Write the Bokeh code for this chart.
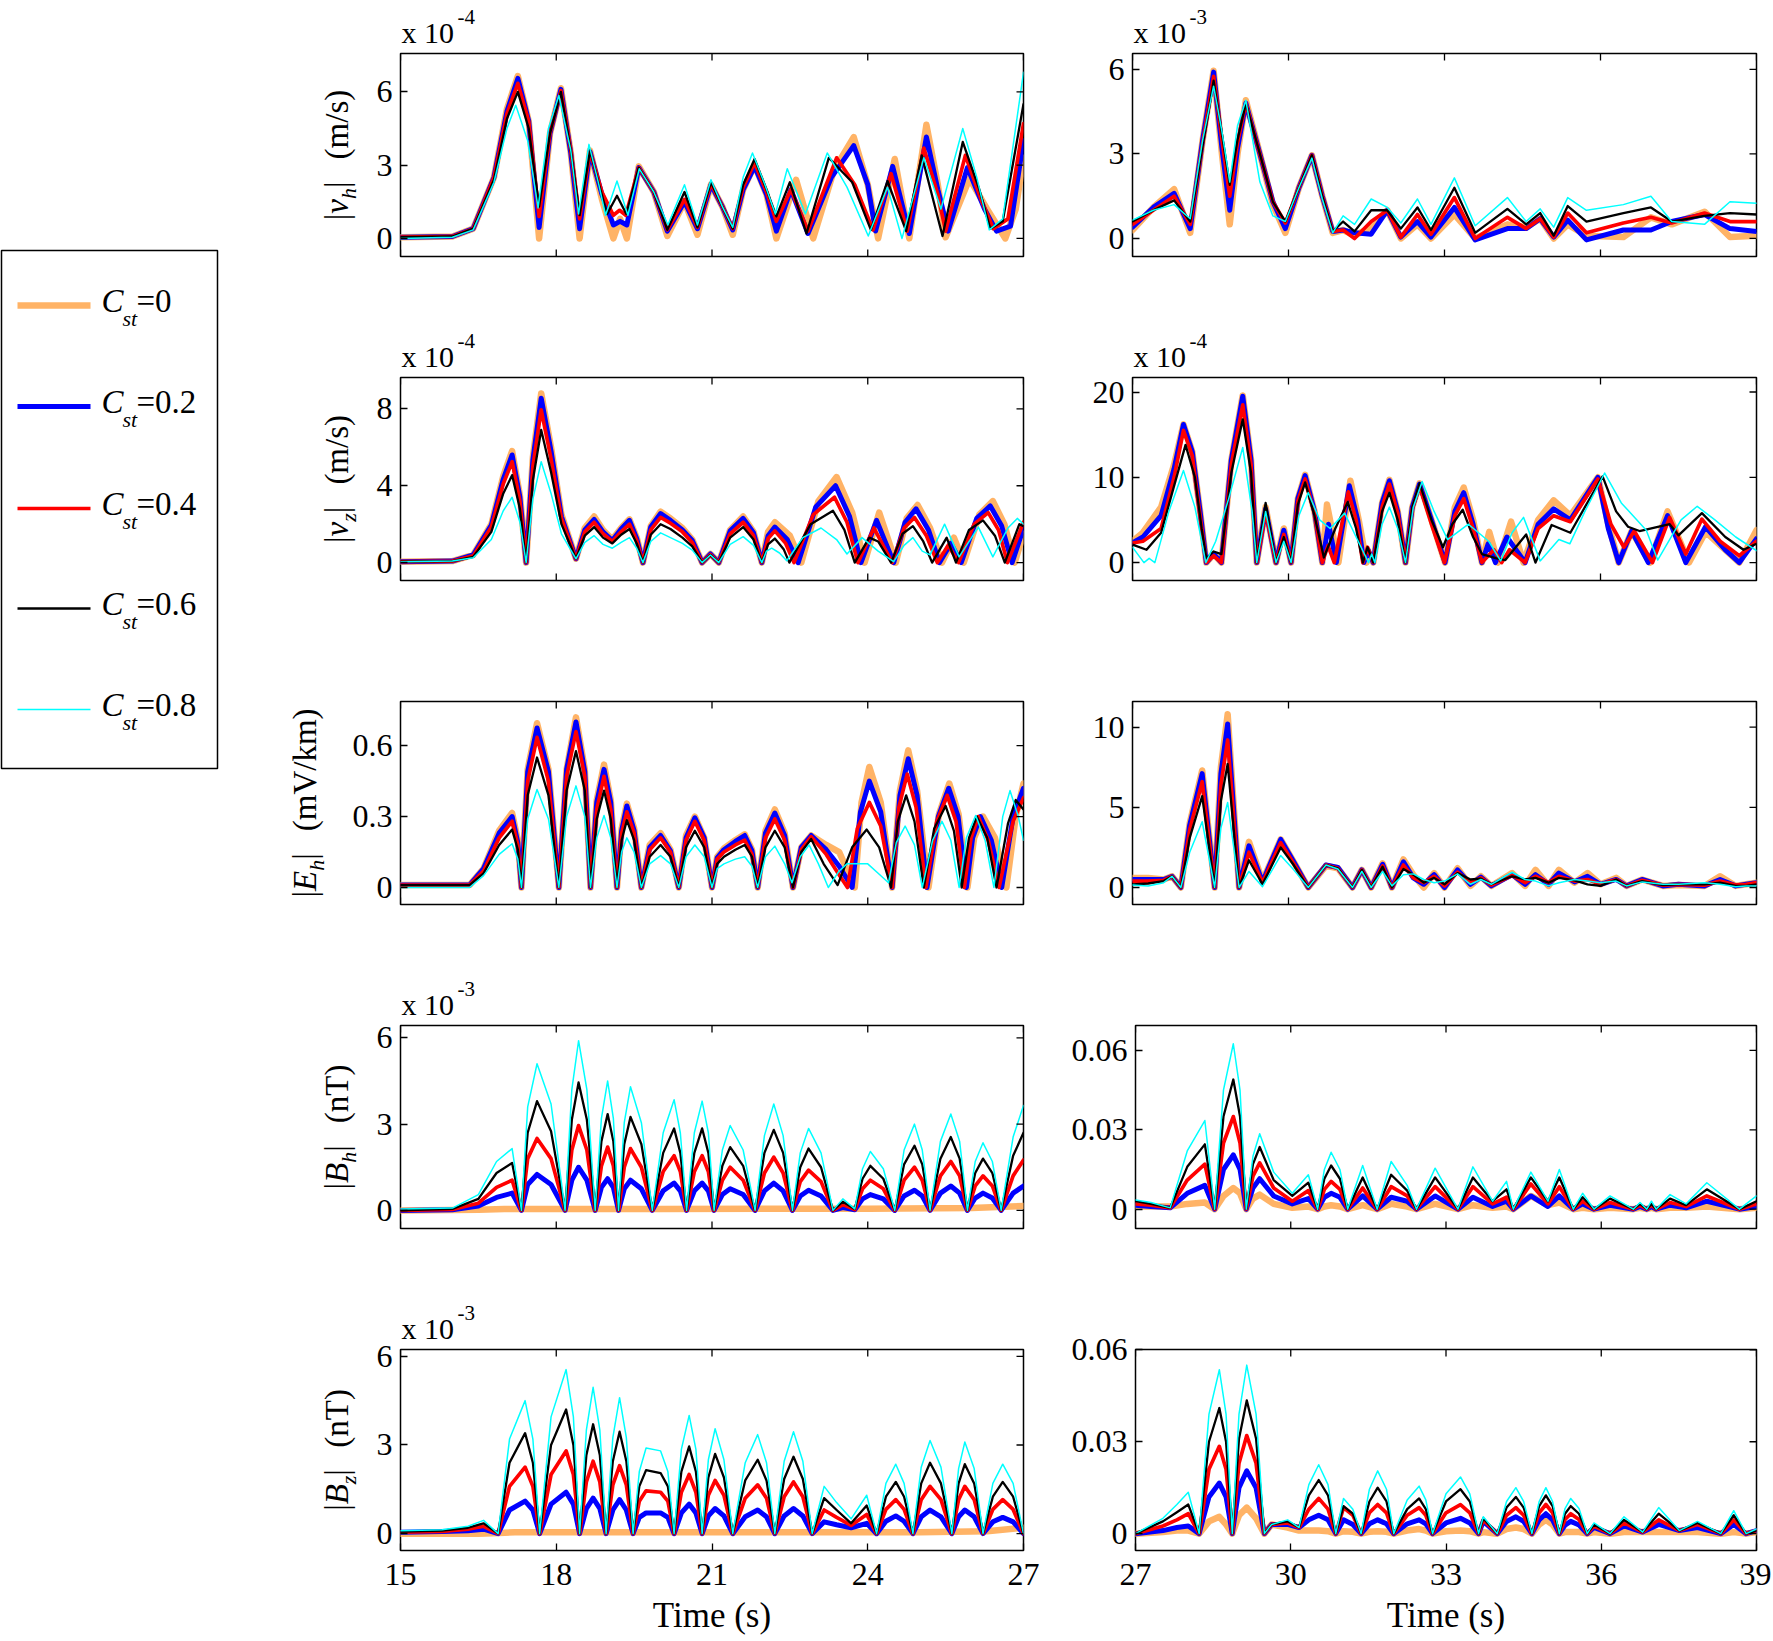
import math
from bokeh.plotting import figure
from bokeh.models import Range1d, FixedTicker, Label, CustomJSTickFormatter
from bokeh.layouts import row, column
from bokeh.embed import file_html
from bokeh.resources import INLINE

FONT = "Liberation Serif"
COLORS = ["#FFB366", "#0000FF", "#FF0000", "#000000", "#00FFFF"]
WIDTHS = [6.5, 5.0, 3.7, 2.3, 1.5]
CST = ["0", "0.2", "0.4", "0.6", "0.8"]

X_TICKS_LEFT = [15, 18, 21, 24, 27]
X_TICKS_RIGHT = [27, 30, 33, 36, 39]

# ---------------- |v_h| left (x 1e-4) ----------------
vh_l_c0 = [(15,0.05),(16.0,0.08),(16.4,0.4),(16.8,2.5),(17.05,5.3),(17.26,6.65),(17.47,4.8),(17.67,0.0),(17.88,4.3),(18.09,6.15),(18.28,3.5),(18.45,0.0),(18.65,3.6),(18.88,1.6),(19.1,0.0),(19.23,0.8),(19.36,0.0),(19.59,2.95),(19.88,1.9),(20.14,0.1),(20.47,1.5),(20.72,0.15),(20.98,2.2),(21.2,1.3),(21.4,0.15),(21.6,2.0),(21.82,3.0),(22.05,1.8),(22.24,0.0),(22.62,2.4),(22.95,0.0),(23.35,2.8),(23.73,4.15),(24.0,2.2),(24.2,0.0),(24.52,3.25),(24.8,0.0),(25.13,4.65),(25.35,2.2),(25.5,0.05),(25.96,2.45),(26.3,1.2),(26.65,0.0),(26.85,1.2),(27,3.3)]
vh_l_c1 = [(15,0.05),(16.0,0.08),(16.4,0.4),(16.8,2.5),(17.05,5.2),(17.26,6.55),(17.47,4.8),(17.67,0.45),(17.88,4.3),(18.09,6.1),(18.28,3.5),(18.45,0.4),(18.65,3.55),(18.88,1.8),(19.1,0.55),(19.23,0.7),(19.36,0.55),(19.59,2.9),(19.88,1.9),(20.14,0.3),(20.47,1.5),(20.72,0.4),(20.98,2.2),(21.2,1.3),(21.4,0.35),(21.6,2.0),(21.82,2.95),(22.05,1.8),(22.24,0.3),(22.52,2.0),(22.85,0.2),(23.3,2.5),(23.73,3.8),(24.0,2.2),(24.15,0.3),(24.48,2.95),(24.8,0.2),(25.13,4.15),(25.35,2.0),(25.55,0.3),(25.92,2.9),(26.25,1.2),(26.48,0.3),(26.75,0.5),(27,4.0)]
vh_l_c2 = [(15,0.05),(16.0,0.08),(16.4,0.4),(16.8,2.5),(17.05,5.1),(17.26,6.35),(17.47,4.8),(17.67,0.9),(17.88,4.3),(18.09,6.05),(18.28,3.6),(18.45,0.8),(18.65,3.55),(18.88,1.9),(19.1,0.95),(19.22,1.15),(19.34,0.95),(19.59,2.9),(19.88,1.9),(20.14,0.35),(20.47,1.6),(20.72,0.45),(20.98,2.25),(21.2,1.3),(21.4,0.4),(21.6,2.1),(21.82,3.1),(22.05,1.9),(22.24,0.7),(22.52,2.0),(22.85,0.3),(23.4,3.3),(23.75,2.2),(24.1,0.35),(24.45,2.65),(24.76,0.3),(25.08,3.7),(25.35,1.8),(25.5,0.3),(25.88,3.4),(26.2,1.5),(26.42,0.4),(26.7,0.8),(27,4.7)]
vh_l_c3 = [(15,0.05),(16.0,0.08),(16.4,0.4),(16.8,2.4),(17.05,4.9),(17.26,6.0),(17.47,4.5),(17.67,1.3),(17.88,4.3),(18.09,6.0),(18.28,3.6),(18.45,0.95),(18.65,3.6),(18.85,2.0),(18.98,1.0),(19.17,1.75),(19.35,1.0),(19.59,2.9),(19.88,1.9),(20.14,0.35),(20.47,1.9),(20.72,0.45),(20.98,2.3),(21.2,1.3),(21.4,0.4),(21.6,2.2),(21.82,3.25),(22.05,2.0),(22.24,0.9),(22.5,2.3),(22.82,0.2),(23.25,3.3),(23.7,2.3),(24.06,0.35),(24.38,2.35),(24.74,0.3),(25.04,3.4),(25.44,0.1),(25.83,3.95),(26.15,2.0),(26.36,0.4),(26.6,0.7),(27,5.5)]
vh_l_c4 = [(15,0.0),(16.0,0.05),(16.4,0.35),(16.8,2.3),(17.05,4.5),(17.22,5.45),(17.45,4.0),(17.65,1.25),(17.85,4.5),(18.05,5.85),(18.28,3.6),(18.43,1.0),(18.63,3.85),(18.82,2.2),(18.95,0.95),(19.17,2.35),(19.38,0.95),(19.6,2.85),(19.88,1.9),(20.15,0.55),(20.47,2.2),(20.72,0.55),(20.98,2.4),(21.2,1.3),(21.4,0.45),(21.6,2.5),(21.78,3.5),(22.02,2.2),(22.22,1.0),(22.45,2.85),(22.8,1.0),(23.22,3.5),(23.6,2.1),(24.01,0.1),(24.38,2.1),(24.66,0.0),(25.08,3.3),(25.41,1.2),(25.83,4.5),(26.1,2.5),(26.34,0.35),(26.6,0.8),(27,6.8)]

# ---------------- |v_h| right (x 1e-3) ----------------
vh_r_t = [27.0,27.4,27.8,28.11,28.35,28.56,28.72,28.87,29.02,29.18,29.45,29.7,29.94,30.2,30.45,30.65,30.85,31.05,31.27,31.59,31.9,32.16,32.48,32.74,33.19,33.59,34.21,34.57,34.84,35.1,35.37,35.73,36.44,36.97,37.37,38.0,38.49,39.0]
vh_r_c0 = [0.3,1.1,1.75,0.2,3.5,5.95,3.0,0.5,3.0,4.9,3.0,1.2,0.2,1.8,2.95,1.5,0.2,0.3,0.1,0.4,1.0,0.0,0.5,0.0,0.85,0.0,0.5,0.4,0.7,0.0,0.5,0.1,0.05,0.75,0.5,0.95,0.05,0.1]
vh_r_c1 = [0.4,1.1,1.6,0.35,3.5,5.9,3.2,1.0,3.2,4.8,3.0,1.3,0.35,1.8,2.95,1.5,0.25,0.3,0.2,0.15,1.0,0.05,0.6,0.05,1.1,-0.05,0.35,0.35,0.7,0.05,0.65,-0.05,0.3,0.3,0.6,0.85,0.35,0.25]
vh_r_c2 = [0.5,1.0,1.5,0.5,3.4,5.75,3.5,1.5,3.4,4.8,3.0,1.3,0.55,1.8,2.95,1.5,0.25,0.3,0.0,0.6,1.0,0.05,0.85,0.15,1.45,0.0,0.75,0.35,0.7,0.05,0.9,0.2,0.55,0.75,0.55,0.9,0.6,0.6]
vh_r_c3 = [0.6,1.0,1.35,0.6,3.3,5.6,3.7,1.9,3.5,4.8,3.0,1.3,0.6,1.8,2.95,1.5,0.25,0.6,0.25,1.0,1.0,0.35,1.1,0.3,1.8,0.2,1.05,0.5,0.9,0.1,1.15,0.6,0.9,1.1,0.6,0.8,0.9,0.85]
vh_r_c4 = [0.65,1.0,1.2,0.7,3.5,5.4,3.8,2.0,4.0,4.9,2.0,0.8,0.6,1.8,2.85,1.4,0.2,0.8,0.5,1.4,1.1,0.55,1.4,0.5,2.15,0.45,1.45,0.6,1.05,0.4,1.45,1.0,1.2,1.5,0.6,0.5,1.3,1.25]

# ---------------- |v_z| left (x 1e-4) ----------------
vz_l_c0 = [(15,0.05),(16.0,0.08),(16.4,0.4),(16.75,2.0),(16.98,4.5),(17.15,5.8),(17.3,3.5),(17.42,0.0),(17.55,5.5),(17.71,8.8),(17.9,6.0),(18.1,2.5),(18.38,0.2),(18.55,1.8),(18.73,2.4),(18.9,1.7),(19.08,1.2),(19.25,1.8),(19.41,2.25),(19.55,1.3),(19.67,0.0),(19.82,1.9),(20.01,2.65),(20.2,2.3),(20.43,1.8),(20.62,1.2),(20.81,0.0),(20.97,0.45),(21.13,0.0),(21.35,1.7),(21.6,2.4),(21.8,1.6),(21.96,0.0),(22.08,1.6),(22.21,2.1),(22.5,1.4),(22.72,0.0),(23.05,3.2),(23.4,4.45),(23.7,2.6),(23.94,0.0),(24.22,2.6),(24.54,0.0),(24.75,2.3),(24.96,3.0),(25.2,1.8),(25.43,0.0),(25.66,1.3),(25.85,0.0),(26.15,2.5),(26.41,3.2),(26.63,2.0),(26.83,0.0),(27.0,1.5)]
vz_l_c1 = [(15,0.05),(16.0,0.08),(16.4,0.4),(16.75,1.95),(16.98,4.35),(17.15,5.6),(17.3,3.4),(17.42,0.0),(17.55,5.35),(17.71,8.55),(17.9,5.8),(18.1,2.4),(18.38,0.2),(18.55,1.7),(18.73,2.25),(18.9,1.6),(19.08,1.15),(19.25,1.75),(19.41,2.2),(19.55,1.25),(19.67,0.0),(19.82,1.85),(20.01,2.55),(20.2,2.2),(20.43,1.7),(20.62,1.15),(20.81,0.0),(20.97,0.45),(21.13,0.0),(21.35,1.65),(21.6,2.3),(21.8,1.55),(21.96,0.0),(22.08,1.4),(22.21,1.85),(22.45,1.2),(22.66,0.0),(23.0,2.9),(23.38,4.0),(23.65,2.4),(23.87,0.0),(24.17,2.2),(24.5,0.0),(24.72,2.1),(24.93,2.8),(25.17,1.7),(25.38,0.0),(25.6,1.0),(25.8,0.0),(26.1,2.3),(26.36,2.95),(26.58,1.9),(26.78,0.0),(27.0,1.8)]
vz_l_c2 = [(15,0.05),(16.0,0.08),(16.4,0.35),(16.75,1.85),(16.98,4.1),(17.15,5.25),(17.3,3.2),(17.42,0.0),(17.55,5.0),(17.71,7.95),(17.9,5.4),(18.1,2.3),(18.38,0.2),(18.55,1.6),(18.73,2.1),(18.9,1.5),(19.08,1.1),(19.25,1.6),(19.41,2.0),(19.55,1.15),(19.67,0.0),(19.82,1.7),(20.01,2.35),(20.2,2.05),(20.43,1.6),(20.62,1.05),(20.81,0.0),(20.97,0.42),(21.13,0.0),(21.35,1.5),(21.6,2.1),(21.8,1.4),(21.96,0.0),(22.08,1.25),(22.21,1.65),(22.42,1.0),(22.58,0.0),(22.95,2.5),(23.36,3.4),(23.6,2.1),(23.81,0.0),(24.12,1.8),(24.47,0.0),(24.7,1.8),(24.9,2.35),(25.13,1.4),(25.34,0.0),(25.55,0.9),(25.75,0.0),(26.05,2.0),(26.32,2.6),(26.52,1.7),(26.69,0.0),(27.0,2.1)]
vz_l_c3 = [(15,0.05),(16.0,0.08),(16.4,0.3),(16.75,1.6),(16.98,3.6),(17.15,4.55),(17.3,2.8),(17.42,0.0),(17.55,4.3),(17.71,6.9),(17.9,4.7),(18.1,2.0),(18.38,0.2),(18.55,1.4),(18.73,1.85),(18.9,1.3),(19.08,1.0),(19.25,1.45),(19.41,1.75),(19.55,1.0),(19.67,0.0),(19.82,1.45),(20.01,2.0),(20.2,1.75),(20.43,1.3),(20.62,0.85),(20.81,0.0),(20.97,0.4),(21.13,0.0),(21.35,1.3),(21.6,1.85),(21.8,1.2),(21.96,0.0),(22.08,0.95),(22.21,1.25),(22.38,0.7),(22.49,0.0),(22.9,2.0),(23.33,2.7),(23.55,1.7),(23.75,0.0),(24.03,1.3),(24.2,1.1),(24.45,0.0),(24.67,1.5),(24.87,1.9),(25.07,1.1),(25.24,0.0),(25.52,1.3),(25.7,0.0),(25.95,1.7),(26.22,2.2),(26.45,1.4),(26.64,0.0),(26.92,2.0),(27.0,1.9)]
vz_l_c4 = [(15,0.05),(16.0,0.08),(16.4,0.25),(16.75,1.2),(16.98,2.7),(17.15,3.4),(17.3,2.1),(17.42,0.0),(17.55,3.3),(17.71,5.25),(17.9,3.6),(18.1,1.5),(18.38,0.2),(18.55,1.05),(18.73,1.4),(18.9,0.95),(19.08,0.75),(19.25,1.05),(19.41,1.3),(19.55,0.75),(19.67,0.0),(19.82,1.1),(20.01,1.55),(20.2,1.3),(20.43,1.0),(20.62,0.65),(20.81,0.0),(20.97,0.4),(21.13,0.0),(21.35,0.95),(21.6,1.35),(21.8,0.9),(21.96,0.0),(22.05,0.6),(22.15,0.75),(22.3,0.5),(22.44,0.1),(22.75,1.3),(23.1,1.8),(23.4,1.2),(23.6,0.45),(23.89,1.3),(24.2,0.6),(24.5,0.05),(24.7,0.9),(24.87,1.3),(25.05,0.6),(25.2,0.4),(25.48,2.0),(25.76,0.3),(26.13,1.85),(26.41,0.3),(26.7,1.8),(26.88,2.3),(27.0,2.0)]

# ---------------- |v_z| right (x 1e-4) ----------------
vz_r_c0 = [(27.0,2.5),(27.2,3.5),(27.55,6.5),(27.8,11.5),(27.98,16.2),(28.15,13.0),(28.3,6.0),(28.42,0.0),(28.56,1.0),(28.71,0.0),(28.9,12.0),(29.12,19.6),(29.28,12.0),(29.39,0.0),(29.56,6.5),(29.76,0.0),(29.91,4.0),(30.05,0.0),(30.18,7.5),(30.32,10.3),(30.5,6.0),(30.65,0.0),(30.74,6.8),(30.96,0.0),(31.19,9.6),(31.35,5.0),(31.5,0.0),(31.55,1.0),(31.63,0.0),(31.8,7.0),(31.94,9.7),(32.1,6.0),(32.25,0.0),(32.38,6.5),(32.52,9.3),(32.75,5.0),(33.01,0.0),(33.2,6.5),(33.37,8.8),(33.55,5.0),(33.72,0.0),(33.86,3.6),(34.03,0.0),(34.28,4.8),(34.52,0.0),(34.8,5.0),(35.1,7.3),(35.42,5.5),(35.95,10.0),(36.15,4.5),(36.35,0.0),(36.6,3.7),(36.95,0.0),(37.29,6.0),(37.7,0.0),(38.02,3.6),(38.4,1.5),(38.67,0.0),(39.0,3.8)]
vz_r_c1 = [(27.0,2.3),(27.2,3.0),(27.55,5.5),(27.8,11.0),(27.98,16.2),(28.15,13.0),(28.3,6.0),(28.42,0.0),(28.56,1.0),(28.71,0.0),(28.9,12.0),(29.12,19.5),(29.28,12.0),(29.39,0.0),(29.56,6.3),(29.76,0.0),(29.91,3.8),(30.05,0.0),(30.18,7.5),(30.32,10.2),(30.5,6.0),(30.65,0.0),(30.77,4.5),(30.92,0.0),(31.17,9.0),(31.33,5.0),(31.45,0.0),(31.53,1.5),(31.63,0.0),(31.8,7.0),(31.94,9.6),(32.1,6.0),(32.25,0.0),(32.38,6.5),(32.52,9.2),(32.75,5.0),(33.01,0.0),(33.2,6.0),(33.37,8.2),(33.55,4.5),(33.72,0.0),(33.84,2.2),(33.98,0.0),(34.2,3.0),(34.55,0.0),(34.8,4.5),(35.1,6.3),(35.42,5.0),(35.95,10.0),(36.15,4.0),(36.35,0.0),(36.6,3.7),(36.92,0.0),(37.29,5.5),(37.64,0.0),(38.02,4.2),(38.4,1.5),(38.67,0.0),(39.0,2.8)]
vz_r_c2 = [(27.0,2.3),(27.2,2.5),(27.55,4.0),(27.8,10.0),(27.98,15.5),(28.15,12.5),(28.3,5.5),(28.42,0.0),(28.56,0.8),(28.71,0.0),(28.9,11.5),(29.12,18.5),(29.28,11.5),(29.39,0.0),(29.56,6.0),(29.76,0.0),(29.91,3.3),(30.05,0.0),(30.18,7.2),(30.32,9.8),(30.5,5.8),(30.65,0.0),(30.76,2.0),(30.88,0.0),(31.15,8.3),(31.3,5.0),(31.43,0.0),(31.52,1.8),(31.63,0.0),(31.8,6.5),(31.94,9.2),(32.1,5.8),(32.25,0.0),(32.38,6.3),(32.52,9.0),(32.75,4.5),(33.0,0.0),(33.2,5.5),(33.37,7.5),(33.55,4.0),(33.72,0.0),(33.95,1.5),(34.1,0.0),(34.25,1.5),(34.55,0.0),(34.8,4.0),(35.1,5.5),(35.42,4.8),(35.95,9.8),(36.2,4.5),(36.45,1.8),(36.65,3.7),(37.0,0.0),(37.33,5.3),(37.64,1.0),(37.95,5.1),(38.3,2.5),(38.67,0.8),(39.0,2.5)]
vz_r_c3 = [(27.0,2.1),(27.27,1.5),(27.55,3.5),(27.8,9.0),(28.02,13.8),(28.2,10.0),(28.33,4.0),(28.42,0.5),(28.56,1.3),(28.71,1.0),(28.9,10.5),(29.12,16.8),(29.28,10.5),(29.39,0.0),(29.56,7.0),(29.76,0.0),(29.91,3.0),(30.05,0.0),(30.18,6.8),(30.32,9.4),(30.5,5.5),(30.68,0.6),(30.9,4.0),(31.14,7.1),(31.3,4.0),(31.43,0.0),(31.52,1.8),(31.63,0.0),(31.8,6.0),(31.94,8.2),(32.1,5.0),(32.25,0.0),(32.38,6.5),(32.52,9.3),(32.75,5.0),(32.97,1.8),(33.15,4.5),(33.35,6.2),(33.55,3.0),(33.72,1.0),(34.0,0.5),(34.17,0.3),(34.57,3.3),(34.75,0.0),(35.06,4.4),(35.42,3.5),(35.7,6.5),(36.04,10.1),(36.3,6.0),(36.53,4.2),(36.75,3.7),(37.33,4.5),(37.5,3.2),(37.95,5.8),(38.4,3.0),(38.75,1.5),(39.0,2.2)]
vz_r_c4 = [(27.0,1.8),(27.22,0.0),(27.32,0.5),(27.43,0.0),(27.7,6.0),(27.98,10.8),(28.2,6.5),(28.41,0.0),(28.6,2.5),(28.85,7.5),(29.12,13.5),(29.3,6.0),(29.39,0.0),(29.56,6.0),(29.76,0.0),(29.91,2.5),(30.05,0.0),(30.2,5.5),(30.38,8.2),(30.6,5.0),(30.8,4.0),(31.08,5.8),(31.3,3.0),(31.54,0.0),(31.6,1.0),(31.66,0.0),(31.8,4.5),(31.94,6.5),(32.1,4.0),(32.25,0.0),(32.4,6.5),(32.57,9.5),(32.8,6.0),(33.06,2.7),(33.46,4.5),(33.85,2.5),(34.08,0.2),(34.3,3.5),(34.52,5.3),(34.84,0.2),(35.2,2.7),(35.41,2.2),(35.7,6.0),(36.08,10.5),(36.4,7.0),(36.88,3.8),(37.1,0.3),(37.55,5.0),(37.86,6.6),(38.2,5.0),(38.6,3.0),(39.0,1.4)]

# ---------------- |E_h| left (mV/km) ----------------
eh_l_c0 = [(15,0.01),(16.33,0.01),(16.6,0.08),(16.9,0.24),(17.15,0.315),(17.26,0.2),(17.33,0.0),(17.45,0.5),(17.63,0.695),(17.85,0.5),(18.05,0.0),(18.2,0.5),(18.38,0.72),(18.55,0.5),(18.66,0.0),(18.78,0.37),(18.92,0.52),(19.05,0.37),(19.17,0.0),(19.26,0.25),(19.36,0.355),(19.5,0.25),(19.64,0.0),(19.8,0.18),(20.01,0.23),(20.2,0.16),(20.36,0.0),(20.5,0.22),(20.67,0.3),(20.85,0.21),(21.0,0.0),(21.1,0.13),(21.23,0.165),(21.45,0.2),(21.63,0.225),(21.77,0.16),(21.88,0.0),(22.03,0.24),(22.21,0.33),(22.4,0.23),(22.56,0.0),(22.72,0.17),(22.91,0.22),(23.2,0.18),(23.45,0.15),(23.75,0.0),(23.88,0.36),(24.03,0.51),(24.25,0.36),(24.47,0.0),(24.62,0.41),(24.78,0.58),(24.95,0.41),(25.17,0.0),(25.37,0.31),(25.57,0.44),(25.75,0.31),(25.92,0.0),(26.05,0.21),(26.22,0.3),(26.45,0.21),(26.67,0.0),(26.85,0.3),(27.0,0.44)]
eh_l_c1 = [(15,0.01),(16.33,0.01),(16.6,0.08),(16.9,0.23),(17.15,0.3),(17.26,0.19),(17.33,0.0),(17.45,0.49),(17.63,0.675),(17.85,0.49),(18.05,0.0),(18.2,0.5),(18.38,0.70),(18.55,0.49),(18.66,0.0),(18.78,0.36),(18.92,0.5),(19.05,0.36),(19.17,0.0),(19.26,0.24),(19.36,0.345),(19.5,0.24),(19.64,0.0),(19.8,0.17),(20.01,0.22),(20.2,0.155),(20.36,0.0),(20.5,0.21),(20.67,0.295),(20.85,0.21),(21.0,0.0),(21.1,0.125),(21.23,0.16),(21.45,0.195),(21.63,0.22),(21.77,0.155),(21.88,0.0),(22.03,0.23),(22.21,0.315),(22.4,0.22),(22.56,0.0),(22.72,0.17),(22.91,0.22),(23.2,0.16),(23.45,0.09),(23.7,0.0),(23.86,0.32),(24.03,0.45),(24.25,0.32),(24.47,0.0),(24.62,0.39),(24.78,0.545),(24.95,0.39),(25.14,0.0),(25.36,0.3),(25.56,0.42),(25.74,0.3),(25.9,0.0),(26.02,0.21),(26.17,0.3),(26.38,0.2),(26.58,0.0),(26.8,0.3),(27.0,0.42)]
eh_l_c2 = [(15,0.01),(16.33,0.01),(16.6,0.07),(16.9,0.21),(17.15,0.28),(17.26,0.18),(17.33,0.0),(17.45,0.45),(17.63,0.635),(17.85,0.45),(18.05,0.0),(18.2,0.47),(18.38,0.66),(18.55,0.47),(18.66,0.0),(18.78,0.33),(18.92,0.47),(19.05,0.33),(19.17,0.0),(19.26,0.23),(19.36,0.32),(19.5,0.23),(19.64,0.0),(19.8,0.16),(20.01,0.21),(20.2,0.15),(20.36,0.0),(20.5,0.2),(20.67,0.28),(20.85,0.2),(21.0,0.0),(21.1,0.12),(21.23,0.15),(21.45,0.18),(21.63,0.2),(21.77,0.14),(21.88,0.0),(22.03,0.21),(22.21,0.29),(22.4,0.2),(22.56,0.0),(22.72,0.16),(22.91,0.215),(23.2,0.14),(23.4,0.07),(23.61,0.0),(23.8,0.25),(24.03,0.36),(24.25,0.26),(24.47,0.0),(24.6,0.34),(24.76,0.48),(24.93,0.34),(25.12,0.0),(25.33,0.28),(25.53,0.39),(25.7,0.28),(25.86,0.0),(25.99,0.21),(26.13,0.3),(26.32,0.2),(26.53,0.0),(26.8,0.28),(27.0,0.38)]
eh_l_c3 = [(15,0.01),(16.33,0.01),(16.6,0.06),(16.9,0.18),(17.15,0.245),(17.26,0.16),(17.33,0.0),(17.45,0.39),(17.63,0.55),(17.85,0.39),(18.05,0.0),(18.2,0.41),(18.38,0.577),(18.55,0.41),(18.66,0.0),(18.78,0.29),(18.92,0.41),(19.05,0.29),(19.17,0.0),(19.26,0.2),(19.36,0.285),(19.5,0.2),(19.64,0.0),(19.8,0.13),(20.01,0.18),(20.2,0.13),(20.36,0.0),(20.5,0.17),(20.67,0.24),(20.85,0.17),(21.0,0.0),(21.1,0.1),(21.23,0.13),(21.45,0.16),(21.63,0.18),(21.77,0.13),(21.88,0.0),(22.03,0.17),(22.21,0.24),(22.4,0.17),(22.56,0.0),(22.72,0.15),(22.91,0.205),(23.15,0.1),(23.42,0.01),(23.7,0.17),(23.98,0.245),(24.22,0.17),(24.45,0.0),(24.58,0.28),(24.74,0.39),(24.9,0.28),(25.08,0.0),(25.28,0.25),(25.5,0.345),(25.66,0.24),(25.81,0.0),(25.95,0.21),(26.1,0.3),(26.3,0.21),(26.48,0.0),(26.7,0.27),(26.85,0.37),(27.0,0.33)]
eh_l_c4 = [(15,0.0),(16.33,0.0),(16.6,0.05),(16.9,0.14),(17.15,0.185),(17.26,0.12),(17.33,0.0),(17.45,0.29),(17.63,0.415),(17.85,0.29),(18.05,0.0),(18.2,0.3),(18.38,0.43),(18.55,0.3),(18.66,0.0),(18.78,0.21),(18.92,0.305),(19.05,0.21),(19.17,0.0),(19.26,0.15),(19.36,0.21),(19.5,0.15),(19.64,0.0),(19.8,0.1),(20.01,0.135),(20.2,0.1),(20.36,0.0),(20.5,0.13),(20.67,0.18),(20.85,0.13),(21.0,0.0),(21.1,0.08),(21.23,0.1),(21.45,0.12),(21.63,0.13),(21.77,0.09),(21.88,0.0),(22.03,0.13),(22.21,0.175),(22.4,0.1),(22.54,0.02),(22.7,0.13),(22.87,0.18),(23.05,0.1),(23.24,0.0),(23.45,0.07),(23.6,0.1),(24.0,0.1),(24.2,0.06),(24.4,0.02),(24.55,0.19),(24.72,0.26),(24.9,0.18),(25.05,0.0),(25.25,0.2),(25.43,0.28),(25.6,0.2),(25.76,0.0),(25.9,0.21),(26.08,0.305),(26.26,0.2),(26.43,0.0),(26.6,0.3),(26.74,0.41),(26.9,0.3),(27.0,0.2)]

# ---------------- |E_h| right (mV/km) ----------------
eh_r_t = [27.0,27.3,27.6,27.76,27.93,28.1,28.34,28.58,28.7,28.83,29.05,29.24,29.5,29.85,30.1,30.38,30.72,30.95,31.23,31.41,31.59,31.81,31.99,32.21,32.4,32.6,32.8,33.0,33.25,33.5,33.7,33.9,34.3,34.55,34.75,35.0,35.2,35.5,35.75,36.0,36.3,36.5,36.8,37.2,37.5,38.0,38.3,38.6,38.8,39.0]
eh_r_c0 = [0.6,0.6,0.5,0.7,0,4.0,7.3,0,7.5,10.8,0,2.85,0.4,3.0,1.6,0,1.35,1.2,0,1.1,0,1.5,0,1.75,0.8,0.0,0.9,0,1.2,0.1,0.7,0.1,0.9,0.1,1.1,0.1,1.1,0.3,0.9,0.2,0.6,0.1,0.5,0.1,0.15,0.1,0.7,0.1,0.2,0.3]
eh_r_c1 = [0.5,0.5,0.5,0.7,0,3.9,7.1,0,7.1,10.2,0,2.6,0.35,3.0,1.6,0,1.4,1.25,0,1.1,0,1.45,0,1.6,0.6,0.2,0.8,0,1.1,0.2,0.65,0.1,0.8,0.2,0.8,0.2,0.9,0.35,0.7,0.2,0.5,0.1,0.5,0.1,0.2,0.1,0.5,0.1,0.2,0.3]
eh_r_c2 = [0.4,0.4,0.45,0.7,0,3.6,6.6,0,6.4,9.2,0,2.2,0.3,2.8,1.5,0,1.4,1.2,0,1.1,0,1.35,0,1.4,0.6,0.3,0.7,0.1,0.95,0.3,0.6,0.15,0.75,0.3,0.7,0.3,0.7,0.4,0.5,0.2,0.5,0.1,0.45,0.15,0.2,0.15,0.4,0.15,0.2,0.3]
eh_r_c3 = [0.2,0.25,0.4,0.7,0,3.1,5.7,0,5.4,7.7,0,1.7,0.2,2.5,1.4,0,1.4,1.2,0,1.1,0,1.3,0,1.15,0.8,0.3,0.6,0.2,0.9,0.5,0.55,0.2,0.7,0.5,0.6,0.3,0.6,0.45,0.2,0.1,0.5,0.1,0.4,0.15,0.2,0.2,0.3,0.1,0.1,0.2]
eh_r_c4 = [0.15,0.1,0.3,0.7,0,2.2,4.1,0,3.7,5.3,0,1.0,0.05,2.0,1.1,0,1.4,1.15,0,1.0,0,1.0,0.1,0.8,0.85,0.5,0.3,0.4,0.85,0.2,0.5,0.2,0.95,0.5,0.4,0.1,0.3,0.5,0.4,0.3,0.4,0.1,0.35,0.2,0.2,0.3,0.2,0.05,0.1,0.1]

# ---------------- |B_h| left (x 1e-3 nT) ----------------
bh_l_t = [15,16.0,16.5,16.85,17.15,17.33,17.45,17.63,17.9,18.17,18.3,18.43,18.59,18.75,18.87,18.99,19.1,19.2,19.31,19.43,19.64,19.85,20.06,20.27,20.39,20.51,20.66,20.81,20.93,21.04,21.2,21.35,21.6,21.83,22.01,22.19,22.37,22.55,22.7,22.86,23.1,23.33,23.52,23.75,23.9,24.05,24.3,24.52,24.7,24.9,25.05,25.2,25.4,25.6,25.77,25.92,26.07,26.22,26.4,26.57,26.8,27.0]
bh_l_c0 = [(15,0.0),(16.5,0.02),(17.0,0.05),(20.0,0.05),(24.0,0.06),(26.0,0.08),(27.0,0.15)]
bh_l_c1 = [0.0,0.02,0.15,0.45,0.6,0.0,0.9,1.25,0.9,0.0,1.05,1.5,1.05,0.0,0.8,1.1,0.8,0.0,0.75,1.05,0.75,0.0,0.68,0.95,0.68,0.0,0.68,0.95,0.68,0.0,0.55,0.75,0.55,0.0,0.68,0.95,0.68,0.0,0.5,0.7,0.5,0.0,0.1,0.02,0.4,0.55,0.4,0.0,0.5,0.7,0.5,0.0,0.6,0.85,0.6,0.0,0.43,0.6,0.43,0.0,0.6,0.85]
bh_l_c2 = [0.0,0.03,0.25,0.8,1.05,0.0,1.8,2.5,1.8,0.0,2.1,2.95,2.1,0.0,1.55,2.2,1.55,0.0,1.5,2.15,1.5,0.0,1.35,1.9,1.35,0.0,1.35,1.9,1.35,0.0,1.05,1.5,1.05,0.0,1.3,1.85,1.3,0.0,1.0,1.4,1.0,0.0,0.2,0.03,0.75,1.05,0.75,0.0,1.05,1.5,1.05,0.0,1.2,1.7,1.2,0.0,0.85,1.2,0.85,0.0,1.2,1.75]
bh_l_c3 = [0.0,0.05,0.4,1.3,1.65,0.0,2.7,3.8,2.75,0.0,3.15,4.45,3.15,0.0,2.4,3.35,2.4,0.0,2.3,3.25,2.3,0.0,2.0,2.85,2.0,0.0,2.0,2.85,2.0,0.0,1.55,2.2,1.55,0.0,2.0,2.8,2.0,0.0,1.5,2.15,1.5,0.0,0.3,0.05,1.1,1.55,1.1,0.0,1.6,2.25,1.6,0.0,1.8,2.55,1.8,0.0,1.3,1.8,1.3,0.0,1.9,2.7]
bh_l_c4 = [0.05,0.08,0.55,1.7,2.15,0.0,3.6,5.1,3.7,0.0,4.2,5.9,4.2,0.0,3.2,4.5,3.2,0.0,3.05,4.3,3.05,0.0,2.7,3.85,2.7,0.0,2.7,3.8,2.7,0.0,2.1,2.95,2.1,0.0,2.6,3.7,2.6,0.0,2.0,2.85,2.0,0.0,0.4,0.05,1.45,2.05,1.45,0.0,2.1,3.0,2.1,0.0,2.4,3.35,2.4,0.0,1.7,2.35,1.7,0.0,2.55,3.65]

# ---------------- |B_h| right (nT) ----------------
bh_r_t = [27.0,27.3,27.67,28.0,28.34,28.53,28.7,28.89,29.02,29.14,29.27,29.4,29.67,30.03,30.34,30.52,30.65,30.78,30.95,31.1,31.39,31.67,31.94,32.25,32.43,32.79,33.23,33.52,33.9,34.17,34.3,34.64,34.97,35.19,35.46,35.64,35.86,36.17,36.62,36.75,36.88,36.97,37.06,37.33,37.64,38.04,38.67,39.0]
bh_r_c0 = [0.001,0.001,0.001,0.002,0.0025,0.0,0.005,0.008,0.006,0.0,0.004,0.0055,0.002,0.0005,0.001,0.0,0.001,0.0015,0.001,0.0,0.0015,0.0,0.002,0.001,0.0,0.002,0.0,0.0015,0.0005,0.001,0.0,0.005,0.0015,0.0025,0.0,0.0005,0.0,0.0005,0.0,0.0005,0.0,0.0005,0.0,0.0005,0.0005,0.001,0.0,0.0005]
bh_r_c1 = [0.0015,0.001,0.0005,0.006,0.009,0.0,0.015,0.0205,0.015,0.0,0.008,0.0115,0.005,0.002,0.004,0.0,0.0045,0.006,0.0045,0.0,0.005,0.0,0.0045,0.003,0.0,0.005,0.0,0.0045,0.001,0.003,0.0,0.005,0.001,0.005,0.0,0.002,0.0,0.0015,0.0,0.001,0.0,0.001,0.0,0.0015,0.0005,0.003,0.0,0.001]
bh_r_c2 = [0.002,0.0015,0.0005,0.011,0.017,0.0,0.025,0.035,0.025,0.0,0.0125,0.0175,0.008,0.003,0.007,0.0,0.0075,0.0105,0.0075,0.0,0.008,0.0,0.0085,0.005,0.0,0.0085,0.0,0.0085,0.002,0.0045,0.0,0.0095,0.002,0.0085,0.0,0.003,0.0,0.0025,0.0,0.0015,0.0,0.0015,0.0,0.0025,0.001,0.005,0.0,0.002]
bh_r_c3 = [0.003,0.002,0.0005,0.016,0.0245,0.0,0.035,0.049,0.035,0.0,0.017,0.0235,0.011,0.005,0.01,0.0,0.0115,0.0165,0.0115,0.0,0.012,0.0,0.013,0.007,0.0,0.012,0.0,0.012,0.003,0.0075,0.0,0.012,0.003,0.012,0.0,0.0045,0.0,0.004,0.0,0.002,0.0,0.002,0.0,0.004,0.0015,0.0075,0.0,0.003]
bh_r_c4 = [0.0035,0.0025,0.0005,0.022,0.0335,0.0,0.045,0.0625,0.045,0.0,0.02,0.0285,0.014,0.006,0.013,0.0,0.015,0.0215,0.015,0.0,0.0165,0.0,0.018,0.009,0.0,0.0155,0.0,0.016,0.003,0.0105,0.0,0.014,0.003,0.015,0.0,0.006,0.0,0.005,0.0,0.0025,0.0,0.003,0.0,0.0055,0.002,0.01,0.0,0.005]

# ---------------- |B_z| left (x 1e-3 nT) ----------------
bz_l_t = [15.0,15.8,16.3,16.6,16.88,17.1,17.4,17.55,17.68,17.9,18.19,18.33,18.45,18.58,18.71,18.84,18.96,19.09,19.22,19.35,19.48,19.6,19.73,20.01,20.15,20.27,20.41,20.56,20.69,20.81,20.93,21.06,21.23,21.4,21.64,21.88,22.05,22.21,22.39,22.57,22.75,22.93,23.16,23.4,23.68,23.98,24.17,24.35,24.54,24.7,24.87,25.03,25.2,25.41,25.62,25.75,25.87,26.05,26.22,26.41,26.6,26.8,27.0]
bz_l_c0 = [(15,0.0),(16.5,0.0),(16.9,0.02),(17.2,0.05),(25.0,0.05),(26.3,0.08),(27.0,0.2)]
bz_l_c1 = [0.05,0.07,0.1,0.15,0.0,0.8,1.1,0.8,0.0,1.0,1.4,1.0,0.0,0.85,1.2,0.85,0.0,0.8,1.15,0.8,0.0,0.55,0.7,0.7,0.55,0.0,0.7,1.0,0.7,0.0,0.6,0.85,0.6,0.0,0.57,0.8,0.57,0.0,0.6,0.85,0.6,0.0,0.4,0.3,0.2,0.35,0.0,0.42,0.6,0.42,0.0,0.57,0.8,0.57,0.0,0.57,0.8,0.57,0.0,0.4,0.55,0.4,0.0]
bz_l_c2 = [0.05,0.08,0.15,0.25,0.0,1.6,2.25,1.6,0.0,2.0,2.8,2.0,0.0,1.75,2.45,1.75,0.0,1.65,2.3,1.65,0.0,1.1,1.45,1.4,1.1,0.0,1.4,2.0,1.4,0.0,1.3,1.8,1.3,0.0,1.2,1.65,1.2,0.0,1.25,1.75,1.25,0.0,0.8,0.55,0.28,0.65,0.0,0.82,1.15,0.82,0.0,1.15,1.6,1.15,0.0,1.15,1.6,1.15,0.0,0.82,1.15,0.82,0.0]
bz_l_c3 = [0.07,0.1,0.2,0.35,0.0,2.4,3.4,2.4,0.0,3.0,4.2,3.0,0.0,2.65,3.7,2.65,0.0,2.45,3.45,2.45,0.0,1.6,2.15,2.05,1.6,0.0,2.1,2.95,2.1,0.0,1.9,2.7,1.9,0.0,1.8,2.5,1.8,0.0,1.85,2.6,1.85,0.0,1.2,0.8,0.35,0.95,0.0,1.25,1.75,1.25,0.0,1.7,2.4,1.7,0.0,1.7,2.35,1.7,0.0,1.25,1.75,1.25,0.0]
bz_l_c4 = [0.1,0.13,0.25,0.45,0.0,3.2,4.5,3.2,0.0,3.95,5.55,3.95,0.0,3.5,4.95,3.5,0.0,3.25,4.6,3.25,0.0,2.1,2.9,2.8,2.1,0.0,2.85,4.0,2.85,0.0,2.5,3.55,2.5,0.0,2.4,3.35,2.4,0.0,2.45,3.45,2.45,0.0,1.6,1.05,0.5,1.3,0.0,1.7,2.35,1.7,0.0,2.25,3.15,2.25,0.0,2.2,3.1,2.2,0.0,1.7,2.35,1.7,0.0]

# ---------------- |B_z| right (nT) ----------------
bz_r_t = [27.0,27.53,27.8,28.02,28.23,28.42,28.62,28.75,28.87,29.0,29.15,29.33,29.49,29.63,29.94,30.16,30.35,30.54,30.72,30.87,31.02,31.2,31.36,31.52,31.68,31.85,31.99,32.25,32.48,32.61,32.74,33.0,33.28,33.46,33.63,33.72,33.99,34.17,34.35,34.5,34.66,34.8,34.93,35.06,35.19,35.3,35.41,35.57,35.73,35.86,36.17,36.44,36.8,37.11,37.51,37.86,38.31,38.56,38.8,39.0]
bz_r_c0 = [0.0,0.0005,0.001,0.001,0.0,0.004,0.0055,0.003,0.0,0.006,0.0085,0.005,0.0,0.003,0.002,0.001,0.001,0.001,0.0008,0.0,0.0008,0.0006,0.0,0.0006,0.0008,0.0006,0.0,0.001,0.0015,0.001,0.0,0.0008,0.001,0.0008,0.0,0.0005,0.0,0.0015,0.002,0.0015,0.0,0.003,0.0045,0.003,0.0,0.0005,0.0005,0.0005,0.0,0.0005,0.0,0.0005,0.0005,0.0005,0.0005,0.0005,0.0,0.0005,0.0,0.0005]
bz_r_c1 = [0.0,0.001,0.002,0.0025,0.0,0.012,0.0165,0.012,0.0,0.015,0.0205,0.015,0.0,0.003,0.003,0.002,0.0045,0.006,0.0045,0.0,0.0045,0.003,0.0,0.0032,0.0045,0.0032,0.0,0.0032,0.0045,0.0032,0.0,0.0035,0.005,0.0035,0.0,0.004,0.0,0.004,0.0055,0.004,0.0,0.0045,0.0065,0.0045,0.0,0.0028,0.004,0.0028,0.0,0.002,0.0,0.0025,0.0005,0.003,0.001,0.002,0.0,0.003,0.0,0.001]
bz_r_c2 = [0.0,0.0025,0.0045,0.0065,0.0,0.021,0.0285,0.021,0.0,0.023,0.032,0.023,0.0,0.003,0.0035,0.002,0.008,0.0115,0.008,0.0,0.0085,0.006,0.0,0.0068,0.0095,0.0068,0.0,0.006,0.0085,0.006,0.0,0.0068,0.0095,0.0068,0.0,0.0045,0.0,0.006,0.0085,0.006,0.0,0.0068,0.0095,0.0068,0.0,0.0046,0.0065,0.0046,0.0,0.0025,0.0,0.0035,0.0005,0.0045,0.001,0.003,0.0,0.0045,0.0,0.001]
bz_r_c3 = [0.0,0.004,0.007,0.0095,0.0,0.03,0.041,0.03,0.0,0.031,0.0435,0.031,0.0,0.003,0.004,0.002,0.0125,0.0175,0.0125,0.0,0.009,0.0065,0.0,0.0105,0.015,0.0105,0.0,0.008,0.0115,0.008,0.0,0.0105,0.0145,0.0105,0.0,0.005,0.0,0.0085,0.012,0.0085,0.0,0.009,0.0125,0.009,0.0,0.0065,0.009,0.0065,0.0,0.003,0.0,0.0045,0.0005,0.0065,0.001,0.0035,0.0,0.006,0.0,0.001]
bz_r_c4 = [0.0,0.005,0.0095,0.0135,0.0,0.039,0.0535,0.039,0.0,0.039,0.055,0.039,0.0,0.003,0.0045,0.002,0.016,0.0225,0.016,0.0,0.0115,0.008,0.0,0.0145,0.0205,0.0145,0.0,0.011,0.0155,0.011,0.0,0.013,0.0185,0.013,0.0,0.0055,0.0,0.0105,0.015,0.0105,0.0,0.0105,0.015,0.0105,0.0,0.0082,0.0115,0.0082,0.0,0.0035,0.0,0.0055,0.0005,0.0085,0.001,0.004,0.0,0.0075,0.0,0.0015]

# ---------------- helpers ----------------
def pairs(lst):
    return [a for a, b in lst], [b for a, b in lst]

def grid(t, v):
    n = min(len(t), len(v))
    return list(t[:n]), list(v[:n])

REG = {' ':250,'(':333,')':333,'/':278,'|':200,'m':778,'s':389,'V':722,'k':500,'n':500,
       'T':611,'x':500,'1':500,'0':500,'-':333,'4':500,'3':500,'=':564,'.':250,'2':500,'6':500,'8':500}
ITA = {'v':444,'h':500,'z':389,'E':611,'B':611,'C':667,'s':389,'t':278}

def text_w(text, size, style):
    tab = ITA if style == "italic" else REG
    return sum(tab.get(ch, 500) for ch in text) * size / 1000.0

MID = 0.3375         # em-box middle above the baseline (Liberation Serif metrics)
FRAME_H = 203
FRAME_TOP = 53       # frame top inside each row block
TICK_LEN = 7
LBL = 33
LEFT_W, RIGHT_W = 810, 703
LEFT_FRAME_OFF, RIGHT_FRAME_OFF = 142, 64
LEFT_FRAME_W, RIGHT_FRAME_W = 623, 624
ROW_H = [324, 324, 324, 324, 341]
LEFT_PAD = [2, 2, 18, 5, 5]      # space above the frame inside each panel figure
RIGHT_PAD = [2, 2, 18, 18, 18]

def style_axis(ax, ticks, standoff):
    ax.ticker = FixedTicker(ticks=ticks)
    ax.minor_tick_line_color = None
    ax.major_tick_in = TICK_LEN
    ax.major_tick_out = 0
    ax.major_tick_line_color = "black"
    ax.major_tick_line_width = 1.3
    ax.axis_line_color = None
    ax.major_label_text_font = FONT
    ax.major_label_text_color = "black"
    ax.major_label_text_font_size = "32px"
    ax.major_label_standoff = standoff
    ax.formatter = CustomJSTickFormatter(code="return String(tick);")

def text_fig(w, h, xr, yr):
    f = figure(width=w, height=h, x_range=Range1d(*xr), y_range=Range1d(*yr),
               output_backend="svg", toolbar_location=None,
               x_axis_location=None, y_axis_location=None,
               min_border_left=0, min_border_right=0, min_border_top=0, min_border_bottom=0)
    f.grid.visible = False
    f.outline_line_color = None
    f.background_fill_color = "white"
    f.border_fill_color = "white"
    return f

def lab_h(f, x, baseline_y, text, size, style="normal"):
    # horizontal text placed by its baseline (anchored at the em-box middle)
    f.add_layout(Label(x=x, y=baseline_y + MID * size, text=text, text_font=FONT,
                       text_font_size=f"{size}px", text_font_style=style, text_align="left",
                       text_baseline="middle", text_color="black"))

def lab_v(f, cx, cy, text, size, style="normal"):
    f.add_layout(Label(x=cx, y=cy, text=text, text_font=FONT, text_font_size=f"{size}px",
                       text_font_style=style, angle=math.pi / 2, text_align="center",
                       text_baseline="middle", text_color="black"))

# strip above each panel: its frame is the whole strip (left column) or
# is aligned by Bokeh with the panel frame below it (right column)
def make_strip(w, h, pad, x_off, xr_w, exponent):
    f = text_fig(w, h, (0, xr_w), (0, h))
    if exponent:
        lab_h(f, x_off + 1, 11 - pad, "x 10", 30)
        lab_h(f, x_off + 57, 29 - pad, exponent, 21)
    return f

# y label figure: Bokeh aligns its frame vertically with the panel frame
def make_ylabel_fig(w, bx, pieces, body_h):
    f = text_fig(w, body_h, (0, w), (0, FRAME_H))
    total = sum(gap + text_w(t, s, st) for t, s, st, sh, gap in pieces)
    y = FRAME_H / 2.0 - total / 2.0
    for t, s, st, sh, gap in pieces:
        y += gap
        wd = text_w(t, s, st)
        lab_v(f, bx + sh - MID * s, y + wd / 2.0, t, s, st)
        y += wd
    return f

def make_panel(width, frame_off, frame_w, height, pad, xr, yr, xticks, yticks, series, last):
    br = width - frame_off - frame_w
    p = figure(width=width, height=height, x_range=Range1d(*xr), y_range=Range1d(*yr),
               output_backend="svg", toolbar_location=None,
               min_border_left=frame_off, min_border_right=br, min_border_top=pad,
               min_border_bottom=height - pad - FRAME_H)
    p.xgrid.visible = False
    p.ygrid.visible = False
    p.outline_line_color = "black"
    p.outline_line_width = 1.5
    p.background_fill_color = "white"
    p.border_fill_color = "white"
    style_axis(p.yaxis[0], yticks, 8)
    if last:
        ax = p.xaxis[0]
        style_axis(ax, xticks, 13)
        ax.axis_label = "Time (s)"
        ax.axis_label_text_font = FONT
        ax.axis_label_text_font_size = "35px"
        ax.axis_label_text_font_style = "normal"
        ax.axis_label_text_color = "black"
        ax.axis_label_standoff = 8
    else:
        p.xaxis.visible = False
    for k, (xs, ys) in enumerate(series):
        p.line(xs, ys, line_color=COLORS[k], line_width=WIDTHS[k], line_join="round", line_cap="round")
    # mirrored inward tick marks (top, right, and bottom when the axis is hidden)
    dy = TICK_LEN * (yr[1] - yr[0]) / FRAME_H
    dx = TICK_LEN * (xr[1] - xr[0]) / frame_w
    n, m = len(xticks), len(yticks)
    p.segment(x0=xticks, y0=[yr[1]] * n, x1=xticks, y1=[yr[1] - dy] * n, line_color="black", line_width=1.3)
    if not last:
        p.segment(x0=xticks, y0=[yr[0]] * n, x1=xticks, y1=[yr[0] + dy] * n, line_color="black", line_width=1.3)
    p.segment(x0=[xr[1]] * m, y0=yticks, x1=[xr[1] - dx] * m, y1=yticks, line_color="black", line_width=1.3)
    return p

def ylab(sym, sub, unit):
    return [("|", LBL, "normal", 0, 0), (sym, LBL, "italic", 0, 0), (sub, 22, "italic", 7, 0),
            ("|", LBL, "normal", 0, 0), (unit, LBL, "normal", 0, 22)]

left_specs = [
    ((-0.74, 7.57), [0, 3, 6], [pairs(vh_l_c0), pairs(vh_l_c1), pairs(vh_l_c2), pairs(vh_l_c3), pairs(vh_l_c4)], "-4", ylab("v", "h", "(m/s)"), 105, 90),
    ((-0.93, 9.63), [0, 4, 8], [pairs(vz_l_c0), pairs(vz_l_c1), pairs(vz_l_c2), pairs(vz_l_c3), pairs(vz_l_c4)], "-4", ylab("v", "z", "(m/s)"), 105, 90),
    ((-0.072, 0.787), [0, 0.3, 0.6], [pairs(eh_l_c0), pairs(eh_l_c1), pairs(eh_l_c2), pairs(eh_l_c3), pairs(eh_l_c4)], None, ylab("E", "h", "(mV/km)"), 85, 58),
    ((-0.63, 6.43), [0, 3, 6], [pairs(bh_l_c0), grid(bh_l_t, bh_l_c1), grid(bh_l_t, bh_l_c2), grid(bh_l_t, bh_l_c3), grid(bh_l_t, bh_l_c4)], "-3", ylab("B", "h", "(nT)"), 105, 90),
    ((-0.57, 6.23), [0, 3, 6], [pairs(bz_l_c0), grid(bz_l_t, bz_l_c1), grid(bz_l_t, bz_l_c2), grid(bz_l_t, bz_l_c3), grid(bz_l_t, bz_l_c4)], "-3", ylab("B", "z", "(nT)"), 105, 90),
]

right_specs = [
    ((-0.64, 6.56), [0, 3, 6], [grid(vh_r_t, vh_r_c0), grid(vh_r_t, vh_r_c1), grid(vh_r_t, vh_r_c2), grid(vh_r_t, vh_r_c3), grid(vh_r_t, vh_r_c4)], "-3"),
    ((-2.1, 21.7), [0, 10, 20], [pairs(vz_r_c0), pairs(vz_r_c1), pairs(vz_r_c2), pairs(vz_r_c3), pairs(vz_r_c4)], "-4"),
    ((-1.06, 11.6), [0, 5, 10], [grid(eh_r_t, eh_r_c0), grid(eh_r_t, eh_r_c1), grid(eh_r_t, eh_r_c2), grid(eh_r_t, eh_r_c3), grid(eh_r_t, eh_r_c4)], None),
    ((-0.0073, 0.0694), [0, 0.03, 0.06], [grid(bh_r_t, bh_r_c0), grid(bh_r_t, bh_r_c1), grid(bh_r_t, bh_r_c2), grid(bh_r_t, bh_r_c3), grid(bh_r_t, bh_r_c4)], None),
    ((-0.0055, 0.0601), [0, 0.03, 0.06], [grid(bz_r_t, bz_r_c0), grid(bz_r_t, bz_r_c1), grid(bz_r_t, bz_r_c2), grid(bz_r_t, bz_r_c3), grid(bz_r_t, bz_r_c4)], None),
]

left_blocks = []
right_blocks = []
for i in range(5):
    last = (i == 4)

    pad = LEFT_PAD[i]
    strip_h = FRAME_TOP - pad
    body_h = ROW_H[i] - strip_h
    yr, yt, series, expo, pieces, lab_w, lab_x = left_specs[i]
    strip = make_strip(LEFT_W, strip_h, pad, LEFT_FRAME_OFF, LEFT_W, expo)
    ylf = make_ylabel_fig(lab_w, lab_x, pieces, body_h)
    pan = make_panel(LEFT_W - lab_w, LEFT_FRAME_OFF - lab_w, LEFT_FRAME_W, body_h, pad, (15, 27), yr,
                     X_TICKS_LEFT, yt, series, last)
    left_blocks.append(column(strip, row(ylf, pan)))

    pad = RIGHT_PAD[i]
    strip_h = FRAME_TOP - pad
    body_h = ROW_H[i] - strip_h
    yr, yt, series, expo = right_specs[i]
    strip = make_strip(RIGHT_W, strip_h, pad, 0, RIGHT_FRAME_W, expo)
    pan = make_panel(RIGHT_W, RIGHT_FRAME_OFF, RIGHT_FRAME_W, body_h, pad, (27, 39), yr,
                     X_TICKS_RIGHT, yt, series, last)
    right_blocks.append(column(strip, pan))

# ---------------- legend ----------------
LEG_FIG_W = 258
LEG_X0, LEG_BOX_W = 1, 216
LEG_TOP, LEG_BOX_H = 250, 518
legend_rows_y = [463, 362, 260, 160, 59]
total_h = sum(ROW_H)
leg = figure(width=LEG_FIG_W, height=total_h, x_range=Range1d(0, LEG_BOX_W), y_range=Range1d(0, LEG_BOX_H),
             output_backend="svg", toolbar_location=None,
             x_axis_location=None, y_axis_location=None,
             min_border_left=LEG_X0, min_border_right=LEG_FIG_W - LEG_X0 - LEG_BOX_W,
             min_border_top=LEG_TOP, min_border_bottom=total_h - LEG_TOP - LEG_BOX_H)
leg.grid.visible = False
leg.outline_line_color = "black"
leg.outline_line_width = 1.5
leg.background_fill_color = "white"
leg.border_fill_color = "white"
for k in range(5):
    yy = legend_rows_y[k]
    leg.line([16, 89], [yy, yy], line_color=COLORS[k], line_width=WIDTHS[k])
    lab_h(leg, 100, yy - 7, "C", 33, "italic")
    lab_h(leg, 121, yy - 20, "st", 22, "italic")
    lab_h(leg, 135, yy - 7, "=" + CST[k], 33)

layout = row(leg, column(*left_blocks), column(*right_blocks))
open("out.html", "w").write(file_html(layout, INLINE))
